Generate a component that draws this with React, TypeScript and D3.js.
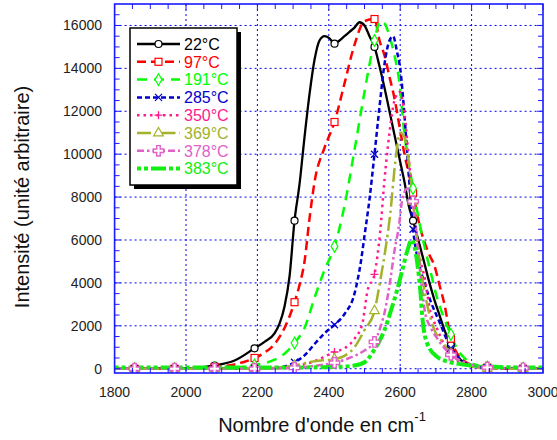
import * as d3 from 'd3'

type Pt = [number, number]

// wavenumbers where every curve carries a marker
const markerXs = [1856, 1968, 2080, 2192, 2304, 2416, 2528, 2636, 2742, 2844, 2944]
const xTicks = [1800, 2000, 2200, 2400, 2600, 2800, 3000]
const yTicks = [0, 2000, 4000, 6000, 8000, 10000, 12000, 14000, 16000]

const s22: Pt[] = [[1800,0],[1856,0],[1912,0],[1968,10],[2024,40],[2080,150],[2136,380],[2192,950],[2220,1250],[2248,1650],[2262,2100],[2276,2900],[2290,4300],[2304,6900],[2318,8600],[2332,10800],[2346,12800],[2360,14400],[2374,15300],[2388,15500],[2402,15400],[2416,15150],[2430,15300],[2444,15500],[2458,15700],[2472,15900],[2486,16150],[2500,16000],[2514,15500],[2528,15000],[2542,14100],[2556,13100],[2570,12000],[2584,10900],[2598,9800],[2612,8700],[2624,7600],[2636,6900],[2654,5800],[2668,4900],[2682,4000],[2696,3200],[2710,2500],[2724,1800],[2742,1100],[2756,700],[2770,400],[2790,200],[2844,60],[2944,10],[3000,0]]
const s97: Pt[] = [[1800,0],[1856,0],[1968,0],[2024,20],[2080,80],[2136,200],[2192,500],[2220,750],[2248,1150],[2276,1900],[2304,3100],[2318,3900],[2332,5000],[2346,7000],[2360,8700],[2388,10300],[2416,11500],[2444,13300],[2472,15100],[2500,16200],[2528,16300],[2542,15300],[2556,14600],[2570,13600],[2584,12600],[2598,11300],[2612,10000],[2624,9100],[2636,8200],[2654,6700],[2668,5900],[2682,5300],[2696,4800],[2710,3900],[2724,3000],[2742,1400],[2760,700],[2780,350],[2808,150],[2844,50],[2944,0],[3000,0]]
const s191: Pt[] = [[1800,0],[1856,0],[1968,0],[2080,20],[2136,60],[2192,170],[2248,420],[2276,700],[2304,1200],[2332,1900],[2360,3300],[2388,4600],[2416,5700],[2444,7600],[2472,10200],[2500,12900],[2528,15300],[2544,16200],[2556,16100],[2570,15500],[2584,14600],[2598,13300],[2612,10900],[2624,9600],[2636,8400],[2654,6800],[2668,5700],[2684,4600],[2700,3500],[2724,2300],[2742,1600],[2760,900],[2780,500],[2808,200],[2844,80],[2944,20],[3000,0]]
const s285: Pt[] = [[1800,0],[1856,0],[1968,0],[2080,0],[2192,20],[2248,40],[2276,100],[2304,300],[2332,620],[2360,1150],[2388,1650],[2416,2050],[2444,2550],[2472,3500],[2490,5000],[2500,6200],[2514,7900],[2528,10000],[2542,12200],[2556,14200],[2570,15300],[2580,15500],[2592,14700],[2600,14000],[2612,11800],[2622,9500],[2636,6500],[2648,5200],[2664,4200],[2684,3200],[2712,2100],[2742,950],[2768,450],[2790,200],[2844,40],[2944,0],[3000,0]]
const s350: Pt[] = [[1800,0],[1856,0],[1968,0],[2080,0],[2192,0],[2248,10],[2304,100],[2360,350],[2416,780],[2444,950],[2472,1400],[2494,2100],[2508,3600],[2528,4400],[2544,6400],[2556,8800],[2570,11000],[2584,12500],[2598,12900],[2612,11900],[2624,9800],[2636,7800],[2654,5300],[2670,4100],[2684,2700],[2700,2000],[2724,1100],[2742,650],[2768,300],[2800,100],[2844,20],[2944,0],[3000,0]]
const s369: Pt[] = [[1800,0],[1856,0],[1968,0],[2080,0],[2192,0],[2304,150],[2360,350],[2416,450],[2444,600],[2472,1000],[2500,1800],[2528,2700],[2544,4100],[2558,5500],[2572,7200],[2586,9600],[2600,11000],[2612,10800],[2624,9600],[2636,7800],[2650,5600],[2664,4000],[2678,2800],[2696,1800],[2720,1200],[2742,700],[2770,300],[2800,100],[2844,20],[2944,0],[3000,0]]
const s378: Pt[] = [[1800,0],[1856,0],[1968,0],[2080,0],[2192,0],[2304,40],[2360,130],[2416,280],[2472,600],[2500,850],[2528,1250],[2544,1900],[2558,2750],[2572,4100],[2584,5500],[2596,6600],[2606,7900],[2620,8400],[2636,7800],[2648,5800],[2658,4200],[2670,2600],[2686,1900],[2704,1400],[2742,650],[2780,300],[2844,60],[2944,20],[3000,0]]
const s383: Pt[] = [[1800,60],[1856,60],[1968,60],[2080,60],[2192,60],[2304,60],[2416,80],[2472,150],[2500,300],[2528,900],[2556,1800],[2572,2600],[2592,3700],[2606,4600],[2620,5500],[2632,6000],[2640,5700],[2648,4900],[2656,3700],[2662,2400],[2675,1200],[2703,560],[2742,300],[2777,190],[2844,100],[2944,60],[3000,60]]

type Marker = 'circle' | 'square' | 'diamond' | 'x' | 'plus' | 'triangle' | 'cross' | 'none'

const series: { label: string; data: Pt[]; color: string; dash: string; width: number; marker: Marker }[] = [
  { label: '22°C', data: s22, color: '#000000', dash: '', width: 2.3, marker: 'circle' },
  { label: '97°C', data: s97, color: '#ff0000', dash: '9,5', width: 2.5, marker: 'square' },
  { label: '191°C', data: s191, color: '#00ff00', dash: '10,7', width: 2.5, marker: 'diamond' },
  { label: '285°C', data: s285, color: '#0000cc', dash: '5,3', width: 2.5, marker: 'x' },
  { label: '350°C', data: s350, color: '#ff1a8c', dash: '2.5,4', width: 2.5, marker: 'plus' },
  { label: '369°C', data: s369, color: '#a3b22a', dash: '14,4,2.5,4', width: 2.5, marker: 'triangle' },
  { label: '378°C', data: s378, color: '#e060c8', dash: '7,3,2.5,3', width: 2.5, marker: 'cross' },
  { label: '383°C', data: s383, color: '#11ee11', dash: '4,3,4,3,15,3', width: 4, marker: 'none' },
]

const W = 557
const H = 440
const x = d3.scaleLinear().domain([1800, 3000]).range([114.6, 543])
const y = d3.scaleLinear().domain([-200, 17000]).range([373, 4])
const axisBlue = '#1a1aff'
const font = 'Arial, "Liberation Sans", sans-serif'

function MarkerShape({ kind, cx, cy, color }: { kind: Marker; cx: number; cy: number; color: string }) {
  const t = `translate(${cx},${cy})`
  switch (kind) {
    case 'circle':
      return <circle cx={cx} cy={cy} r={3.5} fill="white" stroke={color} strokeWidth={1.2} />
    case 'square':
      return <rect x={cx - 3.5} y={cy - 3.5} width={7} height={7} fill="white" stroke={color} strokeWidth={1.2} />
    case 'diamond':
      return <path d={d3.symbol(d3.symbolDiamond, 40)() || ''} transform={t} fill="white" stroke={color} strokeWidth={1.2} />
    case 'triangle':
      return <path d={d3.symbol(d3.symbolTriangle, 40)() || ''} transform={t} fill="white" stroke={color} strokeWidth={1.2} />
    case 'cross':
      return <path d={d3.symbol(d3.symbolCross, 60)() || ''} transform={t} fill="white" stroke={color} strokeWidth={1.4} />
    case 'x':
      return <path d="M-3.5,-3.5L3.5,3.5M-3.5,3.5L3.5,-3.5" transform={t} stroke={color} strokeWidth={1.3} />
    case 'plus':
      return <path d="M-4,0L4,0M0,-4L0,4" transform={t} stroke={color} strokeWidth={1.3} />
    default:
      return null
  }
}

export default function App() {
  const line = d3.line<Pt>().x(d => x(d[0])).y(d => y(d[1])).curve(d3.curveMonotoneX)
  const [x0, x1] = x.range()
  const [yb, yt] = y.range()
  const xMinor = d3.range(1800, 3001, 50)
  const yMinor = d3.range(0, 16501, 500)
  const legendY = (i: number) => 44 + i * 17.8

  return (
    <svg width={W} height={H} style={{ position: 'absolute', left: 0, top: 0, background: '#ffffff' }} fontFamily={font}>
      <defs>
        <clipPath id="plot">
          <rect x={x0} y={yt} width={x1 - x0} height={yb - yt} />
        </clipPath>
      </defs>

      {/* grille pointillée */}
      {xTicks.slice(1, -1).map(t => (
        <line key={'gx' + t} x1={x(t)} x2={x(t)} y1={yt} y2={yb} stroke="#0000ee" strokeWidth={1} strokeDasharray="2,3" />
      ))}
      {yTicks.map(t => (
        <line key={'gy' + t} x1={x0} x2={x1} y1={y(t)} y2={y(t)} stroke="#0000ee" strokeWidth={1} strokeDasharray="2,3" />
      ))}

      {/* courbes */}
      <g clipPath="url(#plot)">
        {series.map(s => (
          <path key={s.label} d={line(s.data) || ''} fill="none" stroke={s.color} strokeWidth={s.width}
            strokeDasharray={s.dash || undefined} strokeLinejoin="round" />
        ))}
        {series.map(s =>
          s.data.filter(d => markerXs.includes(d[0])).map(d => (
            <MarkerShape key={s.label + d[0]} kind={s.marker} cx={x(d[0])} cy={y(d[1])} color={s.color} />
          ))
        )}
      </g>

      {/* graduations sur les 4 côtés */}
      {xMinor.map(t => {
        const len = t % 200 === 0 ? 6 : 5
        return (
          <g key={'tx' + t}>
            <line x1={x(t)} x2={x(t)} y1={yb} y2={yb - len} stroke={axisBlue} strokeWidth={1} />
            <line x1={x(t)} x2={x(t)} y1={yt} y2={yt + len} stroke={axisBlue} strokeWidth={1} />
          </g>
        )
      })}
      {yMinor.map(t => {
        const len = t % 2000 === 0 ? 6 : 5
        return (
          <g key={'ty' + t}>
            <line x1={x0} x2={x0 + len} y1={y(t)} y2={y(t)} stroke={axisBlue} strokeWidth={1} />
            <line x1={x1} x2={x1 - len} y1={y(t)} y2={y(t)} stroke={axisBlue} strokeWidth={1} />
          </g>
        )
      })}
      <rect x={x0} y={yt} width={x1 - x0} height={yb - yt} fill="none" stroke={axisBlue} strokeWidth={1.6} />

      {/* libellés des graduations */}
      {xTicks.map(t => (
        <text key={'lx' + t} x={x(t)} y={397} textAnchor="middle" fontSize={14} fill="#222">{t}</text>
      ))}
      {yTicks.map(t => (
        <text key={'ly' + t} x={102} y={y(t)} dy="0.35em" textAnchor="end" fontSize={14} fill="#222">{t}</text>
      ))}

      {/* titres des axes */}
      <text x={322} y={432} textAnchor="middle" fontSize={20} fill="#111">
        Nombre d'onde en cm<tspan dy={-11} fontSize={13}>-1</tspan>
      </text>
      <text transform="translate(29,197) rotate(-90)" textAnchor="middle" fontSize={20} fill="#111">
        Intensité (unité arbitraire)
      </text>

      {/* légende */}
      <rect x={134} y={32} width={107} height={157} fill="#000" />
      <rect x={130} y={28} width={107} height={157} fill="#fff" stroke="#000" strokeWidth={1.5} />
      {series.map((s, i) => (
        <g key={'lg' + s.label}>
          <line x1={137} x2={180} y1={legendY(i)} y2={legendY(i)} stroke={s.color} strokeWidth={s.width}
            strokeDasharray={s.dash || undefined} />
          <MarkerShape kind={s.marker} cx={158.5} cy={legendY(i)} color={s.color} />
          <text x={184} y={legendY(i)} dy="0.36em" fontSize={16} fill={s.color}>{s.label}</text>
        </g>
      ))}
    </svg>
  )
}
